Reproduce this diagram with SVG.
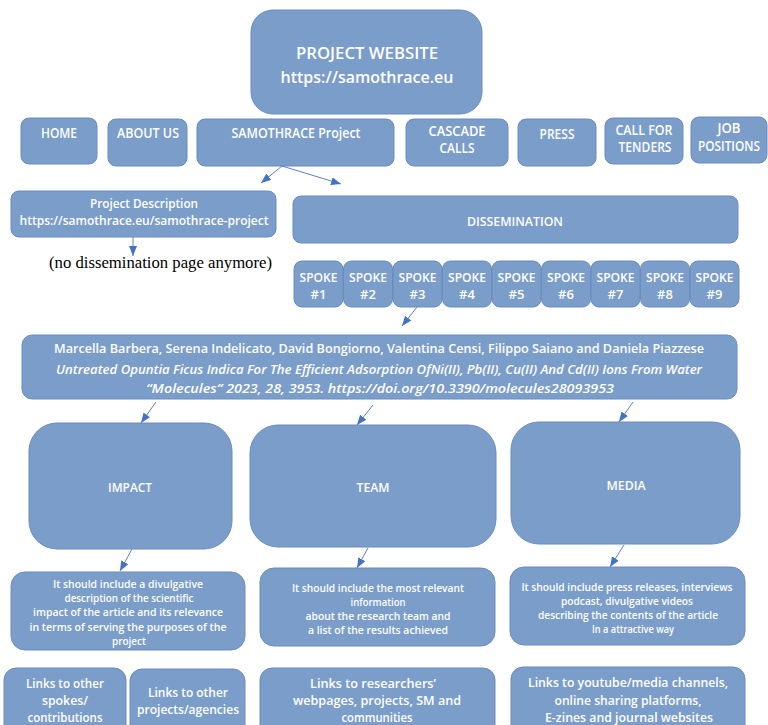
<svg xmlns="http://www.w3.org/2000/svg" width="768" height="725" viewBox="0 0 768 725">
<defs>
<style>
.b{fill:#7b9dca;stroke:#6a8cc0;stroke-width:1}
.t{fill:#ffffff;font-family:"Open Sans","Liberation Sans",sans-serif;font-weight:600;text-anchor:middle}
.c{stroke:#5b83c8;stroke-width:1;fill:none;marker-end:url(#ah)}
.s{fill:#000;font-family:"Liberation Serif","Times New Roman",serif;font-size:16px}
</style>
<marker id="ah" markerUnits="userSpaceOnUse" markerWidth="10" markerHeight="8" refX="10" refY="4" orient="auto">
<path d="M0,0 L10,4 L0,8 z" fill="#4472c4"/>
</marker>
</defs>
<rect width="768" height="725" fill="#ffffff"/>

<g id="website">
<rect class="b" x="251" y="10" width="231" height="104" rx="22"/>
<text class="t" x="367" y="59" font-size="17" textLength="142" lengthAdjust="spacingAndGlyphs">PROJECT WEBSITE</text>
<text class="t" x="367" y="83" font-size="17" textLength="173" lengthAdjust="spacingAndGlyphs">https://samothrace.eu</text>
</g>

<g id="home">
<rect class="b" x="21" y="118" width="76" height="46" rx="8"/>
<text class="t" x="59" y="138" font-size="13.5" textLength="36" lengthAdjust="spacingAndGlyphs">HOME</text>
</g>
<g id="about">
<rect class="b" x="108" y="119" width="79" height="47" rx="8"/>
<text class="t" x="148" y="138" font-size="13.5" textLength="62" lengthAdjust="spacingAndGlyphs">ABOUT US</text>
</g>
<g id="samothrace">
<rect class="b" x="197" y="119" width="197" height="47" rx="8"/>
<text class="t" x="296" y="138" font-size="13.5" textLength="129" lengthAdjust="spacingAndGlyphs">SAMOTHRACE Project</text>
</g>
<g id="cascade">
<rect class="b" x="406" y="119" width="102" height="47" rx="8"/>
<text class="t" x="457" y="136" font-size="13.5" textLength="57" lengthAdjust="spacingAndGlyphs">CASCADE</text>
<text class="t" x="457" y="153" font-size="13.5" textLength="35" lengthAdjust="spacingAndGlyphs">CALLS</text>
</g>
<g id="press">
<rect class="b" x="518" y="119" width="78" height="47" rx="8"/>
<text class="t" x="557" y="139" font-size="13.5" textLength="35" lengthAdjust="spacingAndGlyphs">PRESS</text>
</g>
<g id="tenders">
<rect class="b" x="605" y="118" width="78" height="46" rx="8"/>
<text class="t" x="644" y="135" font-size="13.5" textLength="57" lengthAdjust="spacingAndGlyphs">CALL FOR</text>
<text class="t" x="645" y="152" font-size="13.5" textLength="53" lengthAdjust="spacingAndGlyphs">TENDERS</text>
</g>
<g id="jobs">
<rect class="b" x="691" y="117" width="76" height="46" rx="8"/>
<text class="t" x="729" y="133" font-size="13.5" textLength="23" lengthAdjust="spacingAndGlyphs">JOB</text>
<text class="t" x="729" y="151" font-size="13.5" textLength="62" lengthAdjust="spacingAndGlyphs">POSITIONS</text>
</g>

<g id="project-description">
<rect class="b" x="11" y="191" width="265" height="46" rx="8"/>
<text class="t" x="144" y="207.5" font-size="12.5" textLength="108" lengthAdjust="spacingAndGlyphs">Project Description</text>
<text class="t" x="144" y="224.5" font-size="12.5" textLength="249" lengthAdjust="spacingAndGlyphs">https://samothrace.eu/samothrace-project</text>
</g>
<g id="note">
<text class="s" x="49" y="268" textLength="223" lengthAdjust="spacingAndGlyphs">(no dissemination page anymore)</text>
</g>

<g id="dissemination">
<rect class="b" x="293" y="196" width="445" height="47" rx="8"/>
<text class="t" x="515" y="225.5" font-size="13" textLength="96" lengthAdjust="spacingAndGlyphs">DISSEMINATION</text>
</g>

<g id="spoke1"><rect class="b" x="294" y="261" width="49" height="46" rx="8"/><text class="t" x="318.5" y="282" font-size="13" textLength="38" lengthAdjust="spacingAndGlyphs">SPOKE</text><text class="t" x="318.5" y="299" font-size="13">#1</text></g>
<g id="spoke2"><rect class="b" x="343.5" y="261" width="49" height="46" rx="8"/><text class="t" x="368" y="282" font-size="13" textLength="38" lengthAdjust="spacingAndGlyphs">SPOKE</text><text class="t" x="368" y="299" font-size="13">#2</text></g>
<g id="spoke3"><rect class="b" x="393" y="261" width="49" height="46" rx="8"/><text class="t" x="417.5" y="282" font-size="13" textLength="38" lengthAdjust="spacingAndGlyphs">SPOKE</text><text class="t" x="417.5" y="299" font-size="13">#3</text></g>
<g id="spoke4"><rect class="b" x="442.5" y="261" width="49" height="46" rx="8"/><text class="t" x="467" y="282" font-size="13" textLength="38" lengthAdjust="spacingAndGlyphs">SPOKE</text><text class="t" x="467" y="299" font-size="13">#4</text></g>
<g id="spoke5"><rect class="b" x="492" y="261" width="49" height="46" rx="8"/><text class="t" x="516.5" y="282" font-size="13" textLength="38" lengthAdjust="spacingAndGlyphs">SPOKE</text><text class="t" x="516.5" y="299" font-size="13">#5</text></g>
<g id="spoke6"><rect class="b" x="541.5" y="261" width="49" height="46" rx="8"/><text class="t" x="566" y="282" font-size="13" textLength="38" lengthAdjust="spacingAndGlyphs">SPOKE</text><text class="t" x="566" y="299" font-size="13">#6</text></g>
<g id="spoke7"><rect class="b" x="591" y="261" width="49" height="46" rx="8"/><text class="t" x="615.5" y="282" font-size="13" textLength="38" lengthAdjust="spacingAndGlyphs">SPOKE</text><text class="t" x="615.5" y="299" font-size="13">#7</text></g>
<g id="spoke8"><rect class="b" x="640.5" y="261" width="49" height="46" rx="8"/><text class="t" x="665" y="282" font-size="13" textLength="38" lengthAdjust="spacingAndGlyphs">SPOKE</text><text class="t" x="665" y="299" font-size="13">#8</text></g>
<g id="spoke9"><rect class="b" x="690" y="261" width="49" height="46" rx="8"/><text class="t" x="714.5" y="282" font-size="13" textLength="38" lengthAdjust="spacingAndGlyphs">SPOKE</text><text class="t" x="714.5" y="299" font-size="13">#9</text></g>

<g id="article">
<rect class="b" x="22" y="335" width="715" height="64" rx="10"/>
<text class="t" x="379" y="352.5" font-size="12.5" textLength="650" lengthAdjust="spacingAndGlyphs">Marcella Barbera, Serena Indelicato, David Bongiorno, Valentina Censi, Filippo Saiano and Daniela Piazzese</text>
<text class="t" x="379" y="373.5" font-size="12.5" font-style="italic" font-weight="normal" textLength="646" lengthAdjust="spacingAndGlyphs">Untreated Opuntia Ficus Indica For The Efficient Adsorption OfNi(II), Pb(II), Cu(II) And Cd(II) Ions From Water</text>
<text class="t" x="380" y="392.5" font-size="12.5" font-style="italic" font-weight="normal" textLength="468" lengthAdjust="spacingAndGlyphs">“Molecules” 2023, 28, 3953. https://doi.org/10.3390/molecules28093953</text>
</g>

<g id="impact">
<rect class="b" x="29" y="423" width="203" height="126" rx="28"/>
<text class="t" x="130" y="491.5" font-size="13" textLength="44" lengthAdjust="spacingAndGlyphs">IMPACT</text>
</g>
<g id="team">
<rect class="b" x="250" y="425" width="246" height="122" rx="28"/>
<text class="t" x="373" y="491.5" font-size="13" textLength="33" lengthAdjust="spacingAndGlyphs">TEAM</text>
</g>
<g id="media">
<rect class="b" x="511" y="422" width="229" height="122" rx="28"/>
<text class="t" x="626" y="489.5" font-size="13" textLength="39" lengthAdjust="spacingAndGlyphs">MEDIA</text>
</g>

<g id="impact-desc">
<rect class="b" x="11" y="572" width="234" height="78" rx="14"/>
<text class="t" x="128" y="588" font-size="10.5" textLength="150" lengthAdjust="spacingAndGlyphs">It should include a divulgative</text>
<text class="t" x="129" y="602" font-size="10.5" textLength="129" lengthAdjust="spacingAndGlyphs">description of the scientific</text>
<text class="t" x="128" y="616" font-size="10.5" textLength="190" lengthAdjust="spacingAndGlyphs">impact of the article and its relevance</text>
<text class="t" x="128" y="631" font-size="10.5" textLength="197" lengthAdjust="spacingAndGlyphs">in terms of serving the purposes of the</text>
<text class="t" x="129" y="645" font-size="10.5" textLength="34" lengthAdjust="spacingAndGlyphs">project</text>
</g>
<g id="team-desc">
<rect class="b" x="260" y="568" width="235" height="78" rx="14"/>
<text class="t" x="378" y="592" font-size="10.5" textLength="172" lengthAdjust="spacingAndGlyphs">It should include the most relevant</text>
<text class="t" x="378" y="606" font-size="10.5" textLength="55" lengthAdjust="spacingAndGlyphs">information</text>
<text class="t" x="378" y="620" font-size="10.5" textLength="145" lengthAdjust="spacingAndGlyphs">about the research team and</text>
<text class="t" x="378" y="634" font-size="10.5" textLength="140" lengthAdjust="spacingAndGlyphs">a list of the results achieved</text>
</g>
<g id="media-desc">
<rect class="b" x="510" y="567" width="235" height="78" rx="14"/>
<text class="t" x="627" y="591" font-size="10.5" textLength="211" lengthAdjust="spacingAndGlyphs">It should include press releases, interviews</text>
<text class="t" x="627" y="605" font-size="10.5" textLength="132" lengthAdjust="spacingAndGlyphs">podcast, divulgative videos</text>
<text class="t" x="628" y="619" font-size="10.5" textLength="180" lengthAdjust="spacingAndGlyphs">describing the contents of the article</text>
<text class="t" x="633" y="633" font-size="10.5" textLength="82" lengthAdjust="spacingAndGlyphs">In a attractive way</text>
</g>

<g id="links-spokes">
<rect class="b" x="4" y="668" width="122" height="70" rx="12"/>
<text class="t" x="65" y="688" font-size="13" textLength="78" lengthAdjust="spacingAndGlyphs">Links to other</text>
<text class="t" x="65" y="705" font-size="13" textLength="46" lengthAdjust="spacingAndGlyphs">spokes/</text>
<text class="t" x="65" y="722" font-size="13" textLength="75" lengthAdjust="spacingAndGlyphs">contributions</text>
</g>
<g id="links-projects">
<rect class="b" x="130" y="669" width="115" height="70" rx="12"/>
<text class="t" x="188" y="697" font-size="13" textLength="80" lengthAdjust="spacingAndGlyphs">Links to other</text>
<text class="t" x="188" y="714" font-size="13" textLength="102" lengthAdjust="spacingAndGlyphs">projects/agencies</text>
</g>
<g id="links-researchers">
<rect class="b" x="260" y="668" width="235" height="70" rx="12"/>
<text class="t" x="373" y="688" font-size="13" textLength="126" lengthAdjust="spacingAndGlyphs">Links to researchers’</text>
<text class="t" x="377" y="705" font-size="13" textLength="168" lengthAdjust="spacingAndGlyphs">webpages, projects, SM and</text>
<text class="t" x="377" y="722" font-size="13" textLength="71" lengthAdjust="spacingAndGlyphs">communities</text>
</g>
<g id="links-media">
<rect class="b" x="511" y="667" width="234" height="70" rx="12"/>
<text class="t" x="628" y="687" font-size="13" textLength="200" lengthAdjust="spacingAndGlyphs">Links to youtube/media channels,</text>
<text class="t" x="628" y="705" font-size="13" textLength="147" lengthAdjust="spacingAndGlyphs">online sharing platforms,</text>
<text class="t" x="629" y="722" font-size="13" textLength="168" lengthAdjust="spacingAndGlyphs">E-zines and journal websites</text>
</g>

<g id="connectors">
<line class="c" x1="282" y1="166" x2="261" y2="183"/>
<line class="c" x1="282" y1="166" x2="341" y2="184"/>
<line class="c" x1="133" y1="237" x2="133" y2="256"/>
<line class="c" x1="417" y1="307" x2="402" y2="326"/>
<line class="c" x1="156" y1="402" x2="141" y2="423"/>
<line class="c" x1="373" y1="405" x2="357" y2="425"/>
<line class="c" x1="633" y1="402" x2="619" y2="422"/>
<line class="c" x1="132" y1="549" x2="120" y2="571"/>
<line class="c" x1="368" y1="548" x2="357" y2="568"/>
<line class="c" x1="624" y1="545" x2="610" y2="567"/>
</g>
</svg>
